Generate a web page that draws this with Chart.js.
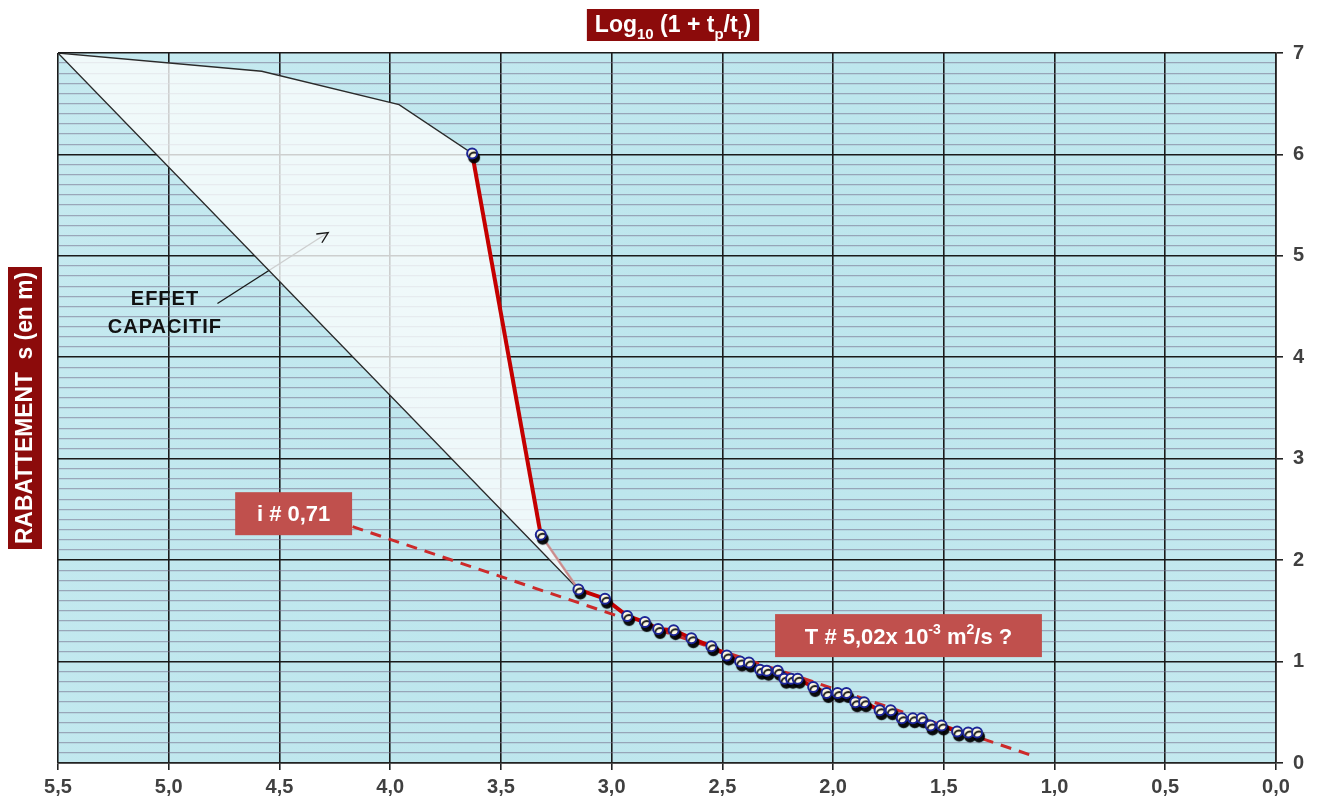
<!DOCTYPE html>
<html>
<head>
<meta charset="utf-8">
<script src="https://cdn.jsdelivr.net/npm/chart.js@4.4.0/dist/chart.umd.min.js"></script>
<style>
  html, body { margin: 0; padding: 0; background: #fff; }
  #wrap { width: 1325px; height: 802px; position: relative; }
</style>
</head>
<body>
<div id="wrap"><canvas id="chart"></canvas></div>
<script>
// Remontee : Log10(1 + tp/tr) vs rabattement s (m)
const logT = [3.63, 3.32, 3.15, 3.03, 2.93, 2.85, 2.79, 2.72, 2.64, 2.55, 2.48, 2.42, 2.38, 2.33, 2.30, 2.25,
  2.22, 2.19, 2.16, 2.09, 2.03, 1.98, 1.94, 1.90, 1.86, 1.79, 1.74, 1.69, 1.64, 1.60, 1.56, 1.51, 1.44, 1.39, 1.35];
const drawdown = [6.01, 2.25, 1.71, 1.62, 1.45, 1.39, 1.32, 1.31, 1.23, 1.15, 1.06, 1.00, 0.99, 0.92, 0.91, 0.91,
  0.83, 0.83, 0.83, 0.75, 0.69, 0.69, 0.69, 0.60, 0.60, 0.52, 0.52, 0.44, 0.44, 0.44, 0.37, 0.37, 0.31, 0.30, 0.30];

// "effet capacitif" envelope (closed shape)
const capaX = [5.5, 4.58, 3.96, 3.63, 3.32, 3.15, 5.5];
const capaY = [7.0, 6.82, 6.49, 6.01, 2.25, 1.71, 7.0];

// straight line fit, slope i # 0,71
const fitX = [4.17, 1.11];
const fitY = [2.33, 0.08];

// arrow pointing into the envelope
const arrowX = [4.78, 4.28];
const arrowY = [4.53, 5.23];

const xMin = 0, xMax = 5.5, xStep = 0.5;
const yMin = 0, yMax = 7, yStep = 0.1;

const FONT = '"Liberation Sans", Arial, sans-serif';
const BOX_RED = '#c0504d';
const TITLE_RED = '#8c0b0b';

const toPts = (xs, ys) => xs.map((x, i) => ({ x: x, y: ys[i] }));
const isInt = v => Math.abs(v - Math.round(v)) < 1e-6;

// draws text made of parts, part.s: 0 normal, 1 subscript, -1 superscript
function richWidth(ctx, parts, size) {
  let w = 0;
  parts.forEach(p => {
    ctx.font = 'bold ' + (p.s ? Math.round(size * 0.65) : size) + 'px ' + FONT;
    w += ctx.measureText(p.t).width;
  });
  return w;
}
function drawRich(ctx, parts, x, y, size) {
  parts.forEach(p => {
    ctx.font = 'bold ' + (p.s ? Math.round(size * 0.65) : size) + 'px ' + FONT;
    let dy = 0;
    if (p.s === 1) dy = size * 0.3;
    if (p.s === -1) dy = -size * 0.42;
    ctx.fillText(p.t, x, y + dy);
    x += ctx.measureText(p.t).width;
  });
}

const bgPlugin = {
  id: 'bg',
  beforeDraw(chart) {
    const { ctx, chartArea: a } = chart;
    ctx.save();
    ctx.fillStyle = '#fff';
    ctx.fillRect(0, 0, chart.width, chart.height);
    const g = ctx.createLinearGradient(a.left, a.top, a.right, a.bottom);
    g.addColorStop(0, '#c6eaf0');
    g.addColorStop(0.5, '#bde6ed');
    g.addColorStop(1, '#c4e9ef');
    ctx.fillStyle = g;
    ctx.fillRect(a.left, a.top, a.right - a.left, a.bottom - a.top);
    ctx.restore();
  }
};

// dark offset shadow under the measured points
const shadowPlugin = {
  id: 'pointShadow',
  beforeDatasetDraw(chart, args) {
    if (args.index !== 0) return;
    const ctx = chart.ctx;
    ctx.save();
    ctx.shadowColor = 'rgba(0,0,0,0.95)';
    ctx.shadowOffsetX = 2;
    ctx.shadowOffsetY = 4;
    ctx.shadowBlur = 1;
  },
  afterDatasetDraw(chart, args) {
    if (args.index !== 0) return;
    chart.ctx.restore();
  }
};

const notesPlugin = {
  id: 'notes',
  afterDatasetsDraw(chart) {
    const { ctx, scales: { x, y } } = chart;
    ctx.save();

    // arrow head
    const x0 = x.getPixelForValue(arrowX[0]), y0 = y.getPixelForValue(arrowY[0]);
    const x1 = x.getPixelForValue(arrowX[1]), y1 = y.getPixelForValue(arrowY[1]);
    const ang = Math.atan2(y1 - y0, x1 - x0);
    ctx.strokeStyle = '#1a1a1a';
    ctx.lineWidth = 1.4;
    ctx.beginPath();
    ctx.moveTo(x1 - 12 * Math.cos(ang - 0.45), y1 - 12 * Math.sin(ang - 0.45));
    ctx.lineTo(x1, y1);
    ctx.lineTo(x1 - 12 * Math.cos(ang + 0.45), y1 - 12 * Math.sin(ang + 0.45));
    ctx.stroke();

    // EFFET CAPACITIF label
    ctx.fillStyle = '#111';
    ctx.textAlign = 'center';
    ctx.textBaseline = 'middle';
    ctx.font = 'bold 20px ' + FONT;
    ctx.letterSpacing = '1px';
    const lx = x.getPixelForValue(5.017);
    ctx.fillText('EFFET', lx, y.getPixelForValue(4.571));
    ctx.fillText('CAPACITIF', lx, y.getPixelForValue(4.296));
    ctx.letterSpacing = '0px';

    // i # 0,71 box
    let bx0 = x.getPixelForValue(4.70), bx1 = x.getPixelForValue(4.172);
    let by0 = y.getPixelForValue(2.67), by1 = y.getPixelForValue(2.246);
    ctx.fillStyle = BOX_RED;
    ctx.fillRect(bx0, by0, bx1 - bx0, by1 - by0);
    ctx.fillStyle = '#fff';
    ctx.font = 'bold 22px ' + FONT;
    ctx.fillText('i # 0,71', (bx0 + bx1) / 2, (by0 + by1) / 2 + 1);

    // T box
    bx0 = x.getPixelForValue(2.262); bx1 = x.getPixelForValue(1.057);
    by0 = y.getPixelForValue(1.468); by1 = y.getPixelForValue(1.044);
    ctx.fillStyle = BOX_RED;
    ctx.fillRect(bx0, by0, bx1 - bx0, by1 - by0);
    const tParts = [{ t: 'T # 5,02x 10', s: 0 }, { t: '-3', s: -1 }, { t: ' m', s: 0 }, { t: '2', s: -1 }, { t: '/s ?', s: 0 }];
    ctx.textAlign = 'left';
    ctx.textBaseline = 'alphabetic';
    ctx.fillStyle = '#fff';
    const tw = richWidth(ctx, tParts, 22);
    drawRich(ctx, tParts, (bx0 + bx1) / 2 - tw / 2, (by0 + by1) / 2 + 8, 22);
    ctx.restore();
  },
  afterDraw(chart) {
    const ctx = chart.ctx;
    ctx.save();
    // top axis title
    const parts = [{ t: 'Log', s: 0 }, { t: '10', s: 1 }, { t: ' (1 + t', s: 0 }, { t: 'p', s: 1 }, { t: '/t', s: 0 }, { t: 'r', s: 1 }, { t: ')', s: 0 }];
    const w = richWidth(ctx, parts, 23);
    const cx = 673;
    ctx.fillStyle = TITLE_RED;
    ctx.fillRect(cx - w / 2 - 8, 9, w + 16, 32);
    ctx.fillStyle = '#fff';
    ctx.textBaseline = 'alphabetic';
    drawRich(ctx, parts, cx - w / 2, 32, 23);

    // left axis title, rotated
    ctx.translate(25, 408);
    ctx.rotate(-Math.PI / 2);
    ctx.font = 'bold 23px ' + FONT;
    const label = 'RABATTEMENT  s (en m)';
    const lw = ctx.measureText(label).width;
    ctx.fillStyle = TITLE_RED;
    ctx.fillRect(-141, -17, 282, 34);
    ctx.fillStyle = '#fff';
    ctx.textAlign = 'center';
    ctx.textBaseline = 'middle';
    ctx.fillText(label, 0, 1, 272);
    ctx.restore();
  }
};

new Chart(document.getElementById('chart'), {
  type: 'scatter',
  data: {
    datasets: [
      {
        label: 'Mesures',
        data: toPts(logT, drawdown),
        showLine: false,
        pointRadius: 5,
        pointBorderWidth: 2,
        pointBackgroundColor: '#fffbe6',
        pointBorderColor: '#1c2596',
        order: 0
      },
      {
        label: 'Courbe',
        data: toPts(logT, drawdown),
        showLine: true,
        borderColor: '#c40000',
        borderWidth: 4,
        pointRadius: 0,
        segment: {
          borderColor: c => c.p0DataIndex === 1 ? 'rgba(215,150,150,0.9)' : '#c40000',
          borderWidth: c => c.p0DataIndex === 1 ? 2.5 : 4
        },
        order: 1
      },
      {
        label: 'Droite',
        data: toPts(fitX, fitY),
        showLine: true,
        borderColor: '#cc2a2a',
        borderWidth: 3,
        borderDash: [11, 8],
        pointRadius: 0,
        order: 2
      },
      {
        label: 'Effet capacitif',
        data: toPts(capaX, capaY),
        showLine: true,
        fill: 'shape',
        backgroundColor: 'rgba(250,252,252,0.8)',
        borderColor: '#2a2a2a',
        borderWidth: 1.3,
        pointRadius: 0,
        order: 3
      },
      {
        label: 'Fleche',
        data: toPts(arrowX, arrowY),
        showLine: true,
        borderColor: '#1a1a1a',
        borderWidth: 1.4,
        pointRadius: 0,
        order: 4
      }
    ]
  },
  options: {
    responsive: true,
    maintainAspectRatio: false,
    animation: false,
    layout: { padding: { left: 58, top: 53, right: 0, bottom: 0 } },
    plugins: {
      legend: { display: false },
      tooltip: { enabled: false }
    },
    scales: {
      x: {
        type: 'linear',
        reverse: true,
        min: xMin,
        max: xMax,
        ticks: {
          stepSize: xStep,
          autoSkip: false,
          maxRotation: 0,
          padding: 5,
          color: '#404040',
          font: { family: FONT, size: 20, weight: 'bold' },
          callback: v => v.toFixed(1).replace('.', ',')
        },
        grid: { color: '#1a1a1a', lineWidth: 1.6, tickLength: 7, tickColor: '#222' },
        border: { color: '#222', width: 1.6 },
        afterFit: s => { s.height = 39; }
      },
      y: {
        type: 'linear',
        position: 'right',
        min: yMin,
        max: yMax,
        ticks: {
          stepSize: yStep,
          autoSkip: false,
          maxTicksLimit: 200,
          padding: 10,
          color: '#404040',
          font: { family: FONT, size: 20, weight: 'bold' },
          callback: v => isInt(v) ? String(Math.round(v)) : ''
        },
        grid: {
          color: c => isInt(c.tick.value) ? '#1a1a1a' : 'rgba(118,112,140,0.55)',
          lineWidth: c => isInt(c.tick.value) ? 1.6 : 1.3,
          tickColor: c => isInt(c.tick.value) ? '#222' : 'rgba(0,0,0,0)',
          tickLength: 7
        },
        border: { color: '#222', width: 1.6 },
        afterFit: s => { s.width = 49; }
      }
    }
  },
  plugins: [bgPlugin, shadowPlugin, notesPlugin]
});
</script>
</body>
</html>
